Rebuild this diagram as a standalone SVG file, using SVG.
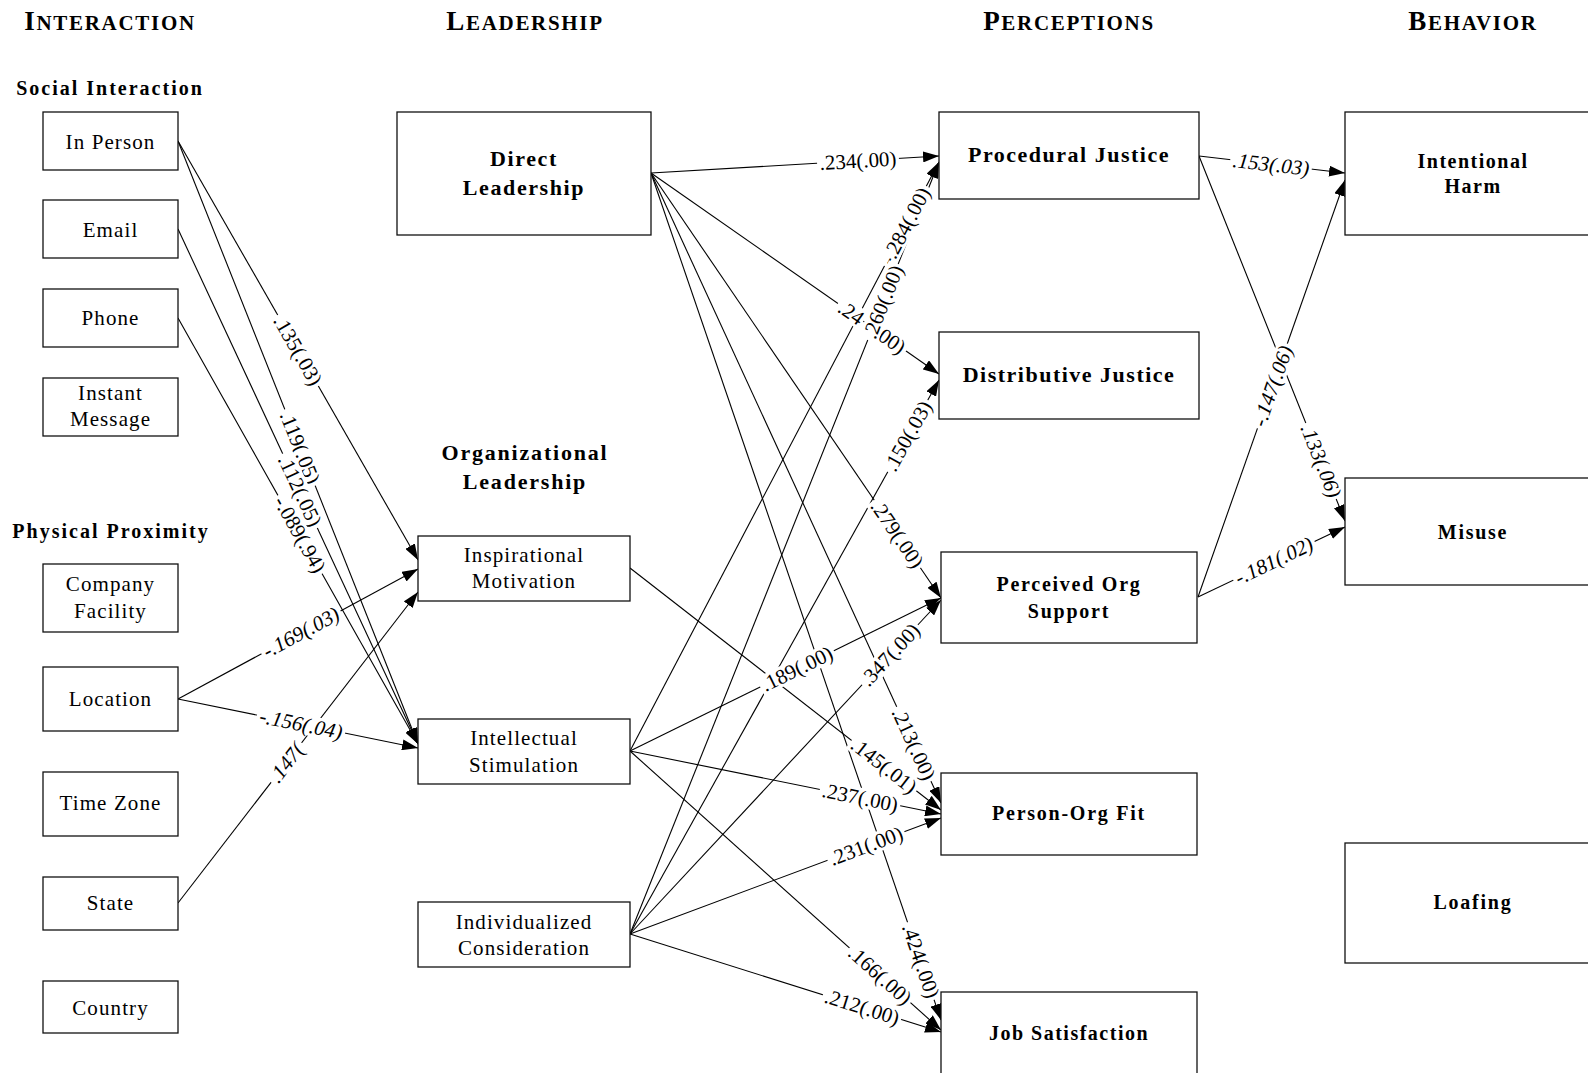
<svg xmlns="http://www.w3.org/2000/svg" width="1588" height="1073" viewBox="0 0 1588 1073">
<defs>
<marker id="arr" markerUnits="userSpaceOnUse" markerWidth="17" markerHeight="11" refX="16" refY="5.5" orient="auto">
<path d="M0,0 L16,5.5 L0,11 z" fill="#000"/>
</marker>
<style>
.box{fill:#fff;stroke:#111;stroke-width:1.3}
.t{font-family:"Liberation Serif","Times New Roman",serif;font-size:21px;letter-spacing:1.1px;text-anchor:middle;fill:#000}
.b{font-family:"Liberation Serif","Times New Roman",serif;font-size:22px;font-weight:bold;letter-spacing:1.6px;text-anchor:middle;fill:#000}
.bs{font-family:"Liberation Serif","Times New Roman",serif;font-size:20px;font-weight:bold;letter-spacing:1.75px;text-anchor:middle;fill:#000}
.sec{font-family:"Liberation Serif","Times New Roman",serif;font-size:20px;font-weight:bold;letter-spacing:2px;text-anchor:middle;fill:#000}
.hdr{font-family:"Liberation Serif","Times New Roman",serif;font-size:21px;font-weight:bold;letter-spacing:1.7px;text-anchor:middle;fill:#000}
.hdr .cap{font-size:27px}
.e{fill:none;stroke:#000;stroke-width:1.1;marker-end:url(#arr)}
.lb rect{fill:#fff;stroke:none}
.lbl{font-family:"Liberation Serif","Times New Roman",serif;font-size:21px;text-anchor:middle;fill:#000}
.it{font-style:italic}
</style>
</defs>
<rect width="1588" height="1073" fill="#fff"/>

<g id="headers">
<text class="hdr" x="110" y="30"><tspan class="cap">I</tspan>NTERACTION</text>
<text class="hdr" x="525" y="30"><tspan class="cap">L</tspan>EADERSHIP</text>
<text class="hdr" x="1069" y="30"><tspan class="cap">P</tspan>ERCEPTIONS</text>
<text class="hdr" x="1473" y="30"><tspan class="cap">B</tspan>EHAVIOR</text>
<text class="sec" x="110" y="95">Social Interaction</text>
<text class="sec" x="111" y="538">Physical Proximity</text>
<text class="b" x="525" y="460" style="letter-spacing:1.8px">Organizational</text>
<text class="b" x="525" y="489" style="letter-spacing:1.8px">Leadership</text>
</g>

<g id="connectors">
<line class="e" x1="178" y1="141" x2="418" y2="560"/>
<line class="e" x1="178" y1="141" x2="418" y2="744"/>
<line class="e" x1="178" y1="229" x2="418" y2="744"/>
<line class="e" x1="178" y1="318" x2="418" y2="744"/>
<line class="e" x1="178" y1="699" x2="418" y2="569"/>
<line class="e" x1="178" y1="699" x2="418" y2="748"/>
<line class="e" x1="178" y1="903" x2="418" y2="592"/>
<line class="e" x1="651" y1="173" x2="939" y2="156"/>
<line class="e" x1="651" y1="173" x2="939" y2="374"/>
<line class="e" x1="651" y1="173" x2="941" y2="598"/>
<line class="e" x1="651" y1="173" x2="941" y2="803"/>
<line class="e" x1="651" y1="173" x2="941" y2="1020"/>
<line class="e" x1="630" y1="568" x2="941" y2="810"/>
<line class="e" x1="630" y1="751" x2="939" y2="162"/>
<line class="e" x1="630" y1="751" x2="941" y2="598"/>
<line class="e" x1="630" y1="751" x2="941" y2="814"/>
<line class="e" x1="630" y1="751" x2="941" y2="1030"/>
<line class="e" x1="630" y1="934" x2="939" y2="162"/>
<line class="e" x1="630" y1="934" x2="939" y2="380"/>
<line class="e" x1="630" y1="934" x2="941" y2="600"/>
<line class="e" x1="630" y1="934" x2="941" y2="818"/>
<line class="e" x1="630" y1="934" x2="941" y2="1032"/>
<line class="e" x1="1199" y1="156" x2="1345" y2="173"/>
<line class="e" x1="1199" y1="156" x2="1345" y2="521"/>
<line class="e" x1="1198" y1="597" x2="1345" y2="180"/>
<line class="e" x1="1198" y1="597" x2="1345" y2="527"/>
</g>

<g id="edge-labels">
<g class="lb" transform="translate(298,350.5) rotate(60.2)"><rect x="-41" y="-10" width="82" height="20"/><text class="lbl" y="7">.135(.03)</text></g>
<g class="lb" transform="translate(300,447.5) rotate(68.3)"><rect x="-41" y="-10" width="82" height="20"/><text class="lbl" y="7">.119(.05)</text></g>
<g class="lb" transform="translate(300,490.8) rotate(65)"><rect x="-41" y="-10" width="82" height="20"/><text class="lbl" y="7">.112(.05)</text></g>
<g class="lb" transform="translate(300,534.5) rotate(60.6)"><rect x="-45" y="-10" width="90" height="20"/><text class="lbl" y="7">-.089(.94)</text></g>
<g class="lb" transform="translate(301,632.4) rotate(-28.4)"><rect x="-45" y="-10" width="90" height="20"/><text class="lbl it" y="7">-.169(.03)</text></g>
<g class="lb" transform="translate(273,780) rotate(-52.3)"><rect x="-3" y="-10" width="50" height="20"/><text class="lbl it" y="7" style="text-anchor:start">.147(</text></g>
<g class="lb" transform="translate(301,724.1) rotate(11.5)"><rect x="-45" y="-10" width="90" height="20"/><text class="lbl it" y="7">-.156(.04)</text></g>
<g class="lb" transform="translate(858,160.8) rotate(-3.4)"><rect x="-41" y="-10" width="82" height="20"/><text class="lbl" y="7">.234(.00)</text></g>
<g class="lb" transform="translate(840.4,305.2) rotate(34.9)"><rect x="-3" y="-10" width="31" height="20"/><text class="lbl" y="7" style="text-anchor:start">.24</text></g>
<g class="lb" transform="translate(903.6,349.2) rotate(34.9)"><rect x="-37" y="-10" width="40" height="20"/><text class="lbl" y="7" style="text-anchor:end">.00)</text></g>
<g class="lb" transform="translate(897.3,534) rotate(55.7)"><rect x="-41" y="-10" width="82" height="20"/><text class="lbl" y="7">.279(.00)</text></g>
<g class="lb" transform="translate(913.8,744) rotate(65.3)"><rect x="-41" y="-10" width="82" height="20"/><text class="lbl" y="7">.213(.00)</text></g>
<g class="lb" transform="translate(920.8,961) rotate(71.1)"><rect x="-41" y="-10" width="82" height="20"/><text class="lbl" y="7">.424(.00)</text></g>
<g class="lb" transform="translate(884,765.6) rotate(37.9)"><rect x="-41" y="-10" width="82" height="20"/><text class="lbl" y="7">.145(.01)</text></g>
<g class="lb" transform="translate(905.4,226) rotate(-62.3)"><rect x="-45" y="-10" width="90" height="20"/><text class="lbl" y="7">-.284(.00)</text></g>
<g class="lb" transform="translate(883,302) rotate(-68.2)"><rect x="-41" y="-10" width="82" height="20"/><text class="lbl" y="7">.260(.00)</text></g>
<g class="lb" transform="translate(907.8,436) rotate(-60.85)"><rect x="-41" y="-10" width="82" height="20"/><text class="lbl" y="7">.150(.03)</text></g>
<g class="lb" transform="translate(890,654.8) rotate(-47)"><rect x="-41" y="-10" width="82" height="20"/><text class="lbl" y="7">.347(.00)</text></g>
<g class="lb" transform="translate(797,668.8) rotate(-26.2)"><rect x="-41" y="-10" width="82" height="20"/><text class="lbl" y="7">.189(.00)</text></g>
<g class="lb" transform="translate(860,797.6) rotate(11.5)"><rect x="-41" y="-10" width="82" height="20"/><text class="lbl" y="7">.237(.00)</text></g>
<g class="lb" transform="translate(866,846) rotate(-20.5)"><rect x="-41" y="-10" width="82" height="20"/><text class="lbl" y="7">.231(.00)</text></g>
<g class="lb" transform="translate(880,975.3) rotate(41.9)"><rect x="-41" y="-10" width="82" height="20"/><text class="lbl" y="7">.166(.00)</text></g>
<g class="lb" transform="translate(862,1007.1) rotate(17.5)"><rect x="-41" y="-10" width="82" height="20"/><text class="lbl" y="7">.212(.00)</text></g>
<g class="lb" transform="translate(1271,164.4) rotate(6.6)"><rect x="-41" y="-10" width="82" height="20"/><text class="lbl it" y="7">.153(.03)</text></g>
<g class="lb" transform="translate(1321,461) rotate(68.2)"><rect x="-41" y="-10" width="82" height="20"/><text class="lbl it" y="7">.133(.06)</text></g>
<g class="lb" transform="translate(1272.4,386) rotate(-70.6)"><rect x="-45" y="-10" width="90" height="20"/><text class="lbl it" y="7">-.147(.06)</text></g>
<g class="lb" transform="translate(1274,560.8) rotate(-25.5)"><rect x="-45" y="-10" width="90" height="20"/><text class="lbl it" y="7">-.181(.02)</text></g>
</g>

<g id="n-inperson"><rect class="box" x="43" y="112" width="135" height="58"/><text class="t" x="110.5" y="149">In Person</text></g>
<g id="n-email"><rect class="box" x="43" y="200" width="135" height="58"/><text class="t" x="110.5" y="237">Email</text></g>
<g id="n-phone"><rect class="box" x="43" y="289" width="135" height="58"/><text class="t" x="110.5" y="325">Phone</text></g>
<g id="n-im"><rect class="box" x="43" y="378" width="135" height="58"/><text class="t" x="110.5" y="400">Instant</text><text class="t" x="110.5" y="426">Message</text></g>
<g id="n-company"><rect class="box" x="43" y="564" width="135" height="68"/><text class="t" x="110.5" y="591">Company</text><text class="t" x="110.5" y="618">Facility</text></g>
<g id="n-location"><rect class="box" x="43" y="667" width="135" height="64"/><text class="t" x="110.5" y="706">Location</text></g>
<g id="n-timezone"><rect class="box" x="43" y="772" width="135" height="64"/><text class="t" x="110.5" y="810">Time Zone</text></g>
<g id="n-state"><rect class="box" x="43" y="877" width="135" height="53"/><text class="t" x="110.5" y="910">State</text></g>
<g id="n-country"><rect class="box" x="43" y="981" width="135" height="52"/><text class="t" x="110.5" y="1015">Country</text></g>

<g id="n-direct"><rect class="box" x="397" y="112" width="254" height="123"/><text class="b" x="524" y="166">Direct</text><text class="b" x="524" y="195">Leadership</text></g>
<g id="n-inspirational"><rect class="box" x="418" y="536" width="212" height="65"/><text class="t" x="524" y="562">Inspirational</text><text class="t" x="524" y="588">Motivation</text></g>
<g id="n-intellectual"><rect class="box" x="418" y="719" width="212" height="65"/><text class="t" x="524" y="745">Intellectual</text><text class="t" x="524" y="772">Stimulation</text></g>
<g id="n-individualized"><rect class="box" x="418" y="902" width="212" height="65"/><text class="t" x="524" y="929">Individualized</text><text class="t" x="524" y="955">Consideration</text></g>

<g id="n-procedural"><rect class="box" x="939" y="112" width="260" height="87"/><text class="b" x="1069" y="162" style="letter-spacing:1.5px">Procedural Justice</text></g>
<g id="n-distributive"><rect class="box" x="939" y="332" width="260" height="87"/><text class="b" x="1069" y="382" style="letter-spacing:1.5px">Distributive Justice</text></g>
<g id="n-pos"><rect class="box" x="941" y="552" width="256" height="91"/><text class="bs" x="1069" y="591">Perceived Org</text><text class="bs" x="1069" y="618">Support</text></g>
<g id="n-pof"><rect class="box" x="941" y="773" width="256" height="82"/><text class="bs" x="1069" y="820">Person-Org Fit</text></g>
<g id="n-js"><rect class="box" x="941" y="992" width="256" height="100"/><text class="bs" x="1069" y="1040" style="letter-spacing:1.5px">Job Satisfaction</text></g>

<g id="n-harm"><rect class="box" x="1345" y="112" width="256" height="123"/><text class="bs" x="1473" y="168" style="letter-spacing:1.5px">Intentional</text><text class="bs" x="1473" y="193" style="letter-spacing:1.5px">Harm</text></g>
<g id="n-misuse"><rect class="box" x="1345" y="478" width="256" height="107"/><text class="bs" x="1473" y="539">Misuse</text></g>
<g id="n-loafing"><rect class="box" x="1345" y="843" width="256" height="120"/><text class="bs" x="1473" y="909">Loafing</text></g>
</svg>
